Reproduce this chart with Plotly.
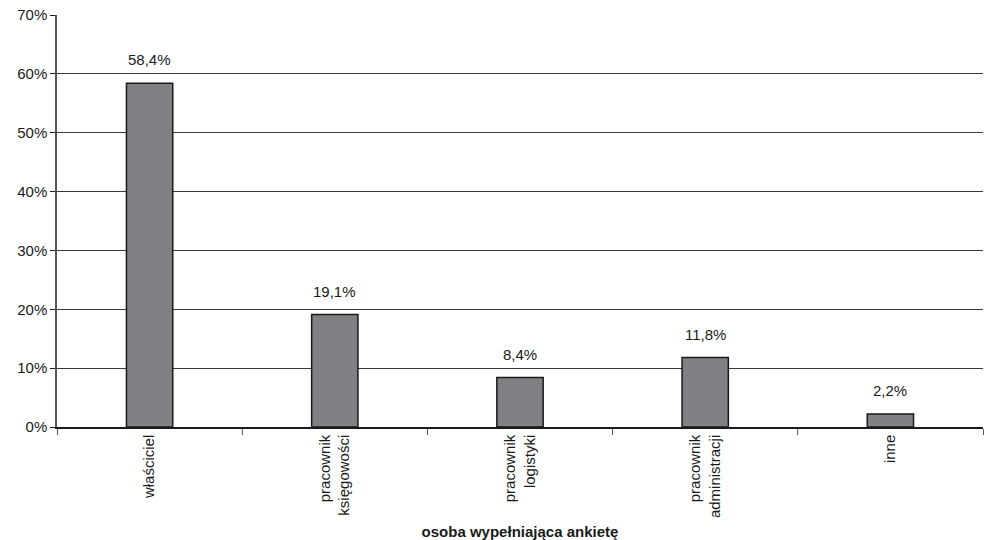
import plotly.graph_objects as go

categories = ["właściciel", "pracownik<br>księgowości", "pracownik<br>logistyki",
              "pracownik<br>administracji", "inne"]
shares = [58.4, 19.1, 8.4, 11.8, 2.2]
y_ticks = [0, 10, 20, 30, 40, 50, 60, 70]
y_tick_labels = [f"{v}%" for v in y_ticks]

FONT = "Liberation Sans Narrow, Arial Narrow, Liberation Sans, Arial, sans-serif"

labels = [f"{v:.1f}%".replace(".", ",") for v in shares]

fig = go.Figure(go.Bar(
    x=categories,
    y=shares,
    marker=dict(color="#808084", line=dict(color="#1a1a1a", width=1.5)),
))

# value labels floating a little above each bar
for cat, val, lab in zip(categories, shares, labels):
    fig.add_annotation(
        x=cat, y=val, text=lab, showarrow=False,
        yanchor="bottom", yshift=13,
        font=dict(size=15, color="#1a1a1a"),
    )

fig.update_layout(
    width=986, height=540,
    margin=dict(l=57, r=3, t=15, b=113),
    paper_bgcolor="white", plot_bgcolor="white",
    font=dict(family=FONT, size=15, color="#1a1a1a"),
    bargap=0.75,
    showlegend=False,
)
fig.update_xaxes(
    automargin=False,
    tickangle=-90,
    tickson="boundaries",
    ticks="outside", ticklen=6, tickcolor="#555",
    showline=True, linecolor="#1a1a1a", linewidth=1.5,
    tickfont=dict(size=15),
    title=dict(text="<b>osoba wypełniająca ankietę</b>", font=dict(size=15), standoff=10),
)
fig.update_yaxes(
    automargin=False,
    range=[0, 70],
    tickvals=y_ticks, ticktext=y_tick_labels,
    ticks="outside", ticklen=5, tickcolor="#1a1a1a",
    showline=True, linecolor="#555", linewidth=1.5,
    showgrid=True, gridcolor="#3a3a3a", gridwidth=1,
    zeroline=False,
    tickfont=dict(size=15),
)

fig.write_html("out.html")
